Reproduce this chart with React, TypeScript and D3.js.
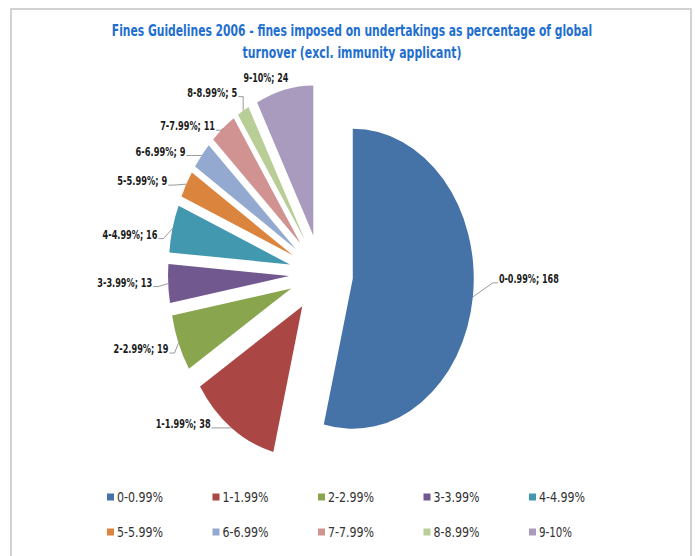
import { useEffect, useRef } from 'react';
import * as d3 from 'd3';

// values
const categories = ['0-0.99%', '1-1.99%', '2-2.99%', '3-3.99%', '4-4.99%', '5-5.99%', '6-6.99%', '7-7.99%', '8-8.99%', '9-10%'];
const counts = [168, 38, 19, 13, 16, 9, 9, 11, 5, 24];
const colors = ['#4572A7', '#AA4643', '#89A54E', '#71588F', '#4198AF', '#DB843D', '#93A9CF', '#D19392', '#B9CD96', '#A99BBD'];
const titleLines = [
  'Fines Guidelines 2006 - fines imposed on undertakings as percentage of global',
  'turnover (excl. immunity applicant)',
];

// layout: label nudges from the slice's outer mid point (Excel placed them by hand-ish)
const labelNudge: [number, number][] = [
  [26, -18], [-21, -4], [-10, 6], [-16, -1], [-15, 6],
  [-19, -3], [-16, -4], [-8, -2], [-6, -18], [4, -12],
];

const W = 695;
const H = 556;
const FONT = '"Liberation Sans Narrow", "DejaVu Sans Condensed", "Open Sans", Arial, sans-serif';

// squeeze a text horizontally to a target width, keeping its anchor point fixed
function fitWidth(sel: d3.Selection<SVGTextElement, any, any, any>, target: (i: number) => number, ax: (i: number) => number) {
  sel.each(function (_, i) {
    const w = this.getComputedTextLength();
    if (!w) return;
    const k = target(i) / w;
    const x0 = ax(i);
    d3.select(this).attr('transform', `translate(${x0},0) scale(${k},1) translate(${-x0},0)`);
  });
}

export default function App() {
  const ref = useRef<SVGSVGElement>(null);

  useEffect(() => {
    if (!ref.current) return;
    const svg = d3.select(ref.current);
    svg.selectAll('*').remove();

    svg.append('rect')
      .attr('width', W).attr('height', H).attr('fill', '#fff');

    // chart frame
    svg.append('rect')
      .attr('x', 11).attr('y', 9)
      .attr('width', 680).attr('height', 560)
      .attr('fill', 'none')
      .attr('stroke', '#c4c4c4')
      .attr('stroke-width', 1.5);

    // title
    const titleWidths = [481, 219];
    const title = svg.selectAll<SVGTextElement, string>('text.title')
      .data(titleLines)
      .join('text')
      .attr('class', 'title')
      .attr('x', 352)
      .attr('y', (_, i) => 30 + i * 22)
      .attr('dy', '0.35em')
      .attr('text-anchor', 'middle')
      .attr('font-family', FONT)
      .attr('font-weight', 'bold')
      .attr('font-size', 16)
      .attr('fill', '#1F6FCF')
      .text(d => d);
    fitWidth(title, i => titleWidths[i], () => 352);

    // pie (the picture is stretched vertically)
    const cx = 321, cy = 274, r = 121, sy = 1.24, explode = 32;
    const rows = categories.map((c, i) => ({ cat: c, value: counts[i], color: colors[i] }));
    const pie = d3.pie<typeof rows[number]>().sort(null).value(d => d.value);
    const arcs = pie(rows);
    const arc = d3.arc<d3.PieArcDatum<typeof rows[number]>>().innerRadius(0).outerRadius(r);
    const mid = (a: d3.PieArcDatum<unknown>) => (a.startAngle + a.endAngle) / 2;

    const g = svg.append('g').attr('transform', `translate(${cx},${cy}) scale(1,${sy})`);
    g.selectAll('path')
      .data(arcs)
      .join('path')
      .attr('transform', d => `translate(${explode * Math.sin(mid(d))},${-explode * Math.cos(mid(d))})`)
      .attr('d', arc)
      .attr('fill', d => d.data.color);

    // data labels with leader lines
    const lab = svg.append('g');
    arcs.forEach((a, i) => {
      const m = mid(a);
      const px = cx + (explode + r) * Math.sin(m);
      const py = cy - (explode + r) * Math.cos(m) * sy;
      const right = Math.sin(m) > 0;
      const [dx, dy] = labelNudge[i];
      const lx = px + dx;
      const ly = py + dy;
      const text = `${a.data.cat}; ${a.data.value}`;
      const outward = right ? dx > 0 : dx < 0;
      if (outward && Math.hypot(dx, dy) > 6) {
        const s = right ? -1 : 1;
        lab.append('polyline')
          .attr('points', `${px},${py} ${lx + s * 6},${ly + 4} ${lx + s * 1},${ly + 4}`)
          .attr('fill', 'none')
          .attr('stroke', '#808080')
          .attr('stroke-width', 0.8);
      }
      const t = lab.append('text')
        .attr('x', lx)
        .attr('y', ly)
        .attr('dy', '0.35em')
        .attr('text-anchor', right ? 'start' : 'end')
        .attr('font-family', FONT)
        .attr('font-weight', 'bold')
        .attr('font-size', 12)
        .attr('fill', '#1a1a1a')
        .text(text);
      fitWidth(t, () => text.length * 5.0, () => lx);
    });

    // legend, 5 per row
    const colX = d3.scaleLinear().domain([0, 1]).range([107, 212.5]);
    const rowY = d3.scaleLinear().domain([0, 1]).range([497, 532]);
    const leg = svg.append('g')
      .selectAll('g')
      .data(rows)
      .join('g')
      .attr('transform', (_, i) => `translate(${colX(i % 5)},${rowY(Math.floor(i / 5))})`);
    leg.append('rect')
      .attr('x', 0).attr('y', -3.5)
      .attr('width', 7).attr('height', 7)
      .attr('fill', d => d.color);
    const legText = leg.append('text')
      .attr('x', 10)
      .attr('dy', '0.35em')
      .attr('font-family', FONT)
      .attr('font-size', 14)
      .attr('fill', '#333')
      .text(d => d.cat);
    legText.each(function (d) {
      const w = this.getComputedTextLength();
      if (!w) return;
      const k = (d.cat.length * 6.6) / w;
      d3.select(this).attr('transform', `translate(10,0) scale(${k},1) translate(-10,0)`);
    });
  }, []);

  return (
    <div style={{ position: 'absolute', left: 0, top: 0 }}>
      <svg ref={ref} width={W} height={H} style={{ display: 'block' }} />
    </div>
  );
}
